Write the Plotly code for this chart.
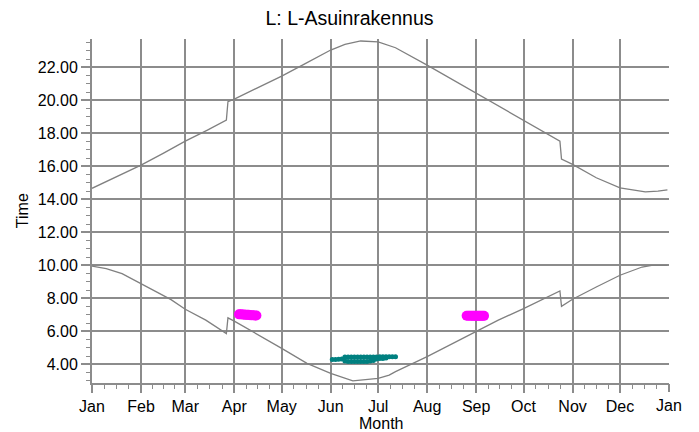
import pandas as pd
import plotly.graph_objects as go

# sunset (upper curve), hours
sunset_dates = [
    "2015-01-01", "2015-01-15", "2015-02-01", "2015-02-15", "2015-03-01",
    "2015-03-15", "2015-03-27", "2015-03-28", "2015-04-01", "2015-04-15",
    "2015-05-01", "2015-05-15", "2015-06-01", "2015-06-10", "2015-06-20",
    "2015-07-01", "2015-07-12", "2015-08-01", "2015-08-15", "2015-09-01",
    "2015-09-15", "2015-10-01", "2015-10-15", "2015-10-24", "2015-10-25",
    "2015-11-01", "2015-11-16", "2015-12-01", "2015-12-17", "2015-12-25",
    "2015-12-31",
]
sunset = [
    14.67, 15.32, 16.08, 16.79, 17.53,
    18.20, 18.80, 19.92, 20.08, 20.73,
    21.47, 22.18, 23.05, 23.39, 23.60,
    23.55, 23.19, 22.14, 21.37, 20.42,
    19.65, 18.80, 18.03, 17.53, 16.44,
    16.12, 15.31, 14.70, 14.46, 14.50,
    14.58,
]

# sunrise (lower curve), hours
sunrise_dates = [
    "2015-01-01", "2015-01-10", "2015-01-20", "2015-02-01", "2015-02-11",
    "2015-02-20", "2015-03-01", "2015-03-14", "2015-03-27", "2015-03-28",
    "2015-04-01", "2015-04-15", "2015-05-01", "2015-05-17", "2015-06-01",
    "2015-06-15", "2015-07-01", "2015-07-08", "2015-07-12", "2015-08-01",
    "2015-08-15", "2015-09-01", "2015-09-15", "2015-10-01", "2015-10-15",
    "2015-10-24", "2015-10-25", "2015-11-01", "2015-11-16", "2015-12-01",
    "2015-12-15", "2015-12-21", "2015-12-31",
]
sunrise = [
    9.96, 9.80, 9.50, 8.90, 8.39,
    7.92, 7.34, 6.68, 5.87, 6.82,
    6.62, 5.87, 4.97, 4.06, 3.46,
    3.00, 3.15, 3.35, 3.56, 4.47,
    5.17, 6.01, 6.68, 7.38, 8.03,
    8.45, 7.52, 7.95, 8.69, 9.40,
    9.90, 10.00, 10.00,
]

# magenta markers (spring and autumn)
magenta_dates = [
    "2015-04-04", "2015-04-05", "2015-04-06", "2015-04-07", "2015-04-08",
    "2015-04-09", "2015-04-10", "2015-04-11", "2015-04-12", "2015-04-13",
    "2015-04-14", "2015-04-15",
    "2015-08-26", "2015-08-27", "2015-08-28", "2015-08-29", "2015-08-30",
    "2015-08-31", "2015-09-01", "2015-09-02", "2015-09-03", "2015-09-04",
    "2015-09-05", "2015-09-06",
]
magenta_values = [
    7.03, 7.03, 7.02, 7.02, 7.00,
    7.00, 7.00, 6.98, 6.98, 6.97,
    6.96, 6.96,
    6.95, 6.95, 6.95, 6.95, 6.94,
    6.94, 6.94, 6.94, 6.94, 6.94,
    6.94, 6.94,
]

# teal markers (midsummer)
teal_dates = [
    "2015-06-02", "2015-06-04", "2015-06-06", "2015-06-08",
    "2015-06-10", "2015-06-12", "2015-06-14", "2015-06-16", "2015-06-18",
    "2015-06-20", "2015-06-22", "2015-06-24", "2015-06-26", "2015-06-28",
    "2015-06-30", "2015-07-02", "2015-07-04", "2015-07-06", "2015-07-08",
    "2015-07-10", "2015-07-12",
    "2015-06-10", "2015-06-12", "2015-06-14", "2015-06-16", "2015-06-18",
    "2015-06-20", "2015-06-22", "2015-06-24", "2015-06-26", "2015-06-28",
    "2015-06-30", "2015-07-02", "2015-07-04", "2015-07-06",
]
teal_values = [
    4.30, 4.30, 4.31, 4.32,
    4.44, 4.45, 4.45, 4.45, 4.45,
    4.45, 4.45, 4.45, 4.45, 4.45,
    4.45, 4.46, 4.46, 4.46, 4.46,
    4.46, 4.46,
    4.20, 4.18, 4.18, 4.18, 4.18,
    4.18, 4.18, 4.18, 4.20, 4.24,
    4.33, 4.35, 4.36, 4.38,
]

month_labels = ["Jan", "Feb", "Mar", "Apr", "May", "Jun", "Jul",
                "Aug", "Sep", "Oct", "Nov", "Dec", "Jan"]

month_starts = pd.date_range("2015-01-01", "2016-01-01", freq="MS")
quarter_ticks = []
for a, b in zip(month_starts[:-1], month_starts[1:]):
    for k in (1, 2, 3):
        quarter_ticks.append(a + (b - a) * k / 4)

grid = "#8c8c8c"
curve = "#808080"

fig = go.Figure()
fig.add_trace(go.Scatter(x=sunset_dates, y=sunset, mode="lines",
                         line=dict(color=curve, width=1.3)))
fig.add_trace(go.Scatter(x=sunrise_dates, y=sunrise, mode="lines",
                         line=dict(color=curve, width=1.3)))
fig.add_trace(go.Scatter(x=magenta_dates, y=magenta_values, mode="markers",
                         marker=dict(color="#ff00ff", size=10, line_width=0)))
fig.add_trace(go.Scatter(x=teal_dates, y=teal_values, mode="markers",
                         marker=dict(color="#008080", size=5, line_width=0)))

fig.update_layout(
    width=699,
    height=432,
    margin=dict(l=92, r=30, t=39, b=49),
    plot_bgcolor="white",
    paper_bgcolor="white",
    showlegend=False,
    font=dict(family="Liberation Sans, Arial, sans-serif", color="#000"),
    title=dict(text="L: L-Asuinrakennus", x=0.5, xref="container",
               xanchor="center", y=1 - 18 / 432, yanchor="middle",
               font=dict(size=19.5), automargin=False),
)
# month-start grid; the closing "Jan" tick sits on a second axis so it has no grid line
fig.update_xaxes(
    type="date",
    range=["2015-01-01", "2016-01-01"],
    tickmode="array",
    tickvals=list(month_starts[:-1]),
    ticktext=month_labels[:-1],
    showgrid=True, gridcolor=grid, gridwidth=2,
    showline=True, linecolor=grid, linewidth=2,
    ticks="outside", ticklen=8, tickwidth=1.5, tickcolor=grid,
    tickfont=dict(size=16),
    minor=dict(tickmode="array", tickvals=quarter_ticks, ticks="outside",
               ticklen=4, tickwidth=1, tickcolor=grid, showgrid=False),
    zeroline=False,
    automargin=False,
)
fig.update_layout(xaxis2=dict(
    type="date",
    overlaying="x",
    anchor="y",
    side="bottom",
    range=["2015-01-01", "2016-01-01"],
    tickmode="array",
    tickvals=[month_starts[-1]],
    ticktext=month_labels[-1:],
    showgrid=False, showline=False, zeroline=False,
    ticks="outside", ticklen=8, tickwidth=1.5, tickcolor=grid,
    tickfont=dict(size=16),
    automargin=False,
))
fig.update_yaxes(
    range=[2.87, 23.72],
    tick0=0, dtick=2, tickformat=".2f",
    showgrid=True, gridcolor=grid, gridwidth=2,
    showline=True, linecolor=grid, linewidth=2,
    ticks="outside", ticklen=9, tickwidth=1.5, tickcolor=grid,
    tickfont=dict(size=16),
    minor=dict(dtick=0.5, ticks="outside", ticklen=4, tickwidth=1,
               tickcolor=grid, showgrid=False),
    zeroline=False,
    automargin=False,
)
# an invisible trace keeps the second x axis drawn
fig.add_trace(go.Scatter(x=[month_starts[0]], y=[None], xaxis="x2",
                         mode="markers", hoverinfo="skip"))

# axis titles placed as annotations so they sit where the reference has them
fig.add_annotation(text="Month", xref="paper", yref="paper", x=0.5, y=-0.119,
                   xanchor="center", yanchor="middle", showarrow=False,
                   font=dict(size=16))
fig.add_annotation(text="Time", xref="paper", yref="paper", x=-0.121, y=0.5,
                   xanchor="center", yanchor="middle", textangle=-90,
                   showarrow=False, font=dict(size=16))

# drop the page's default body margin so the figure fills the window exactly
fig.write_html("out.html", config={"displayModeBar": False},
               post_script="document.body.style.margin='0';")
